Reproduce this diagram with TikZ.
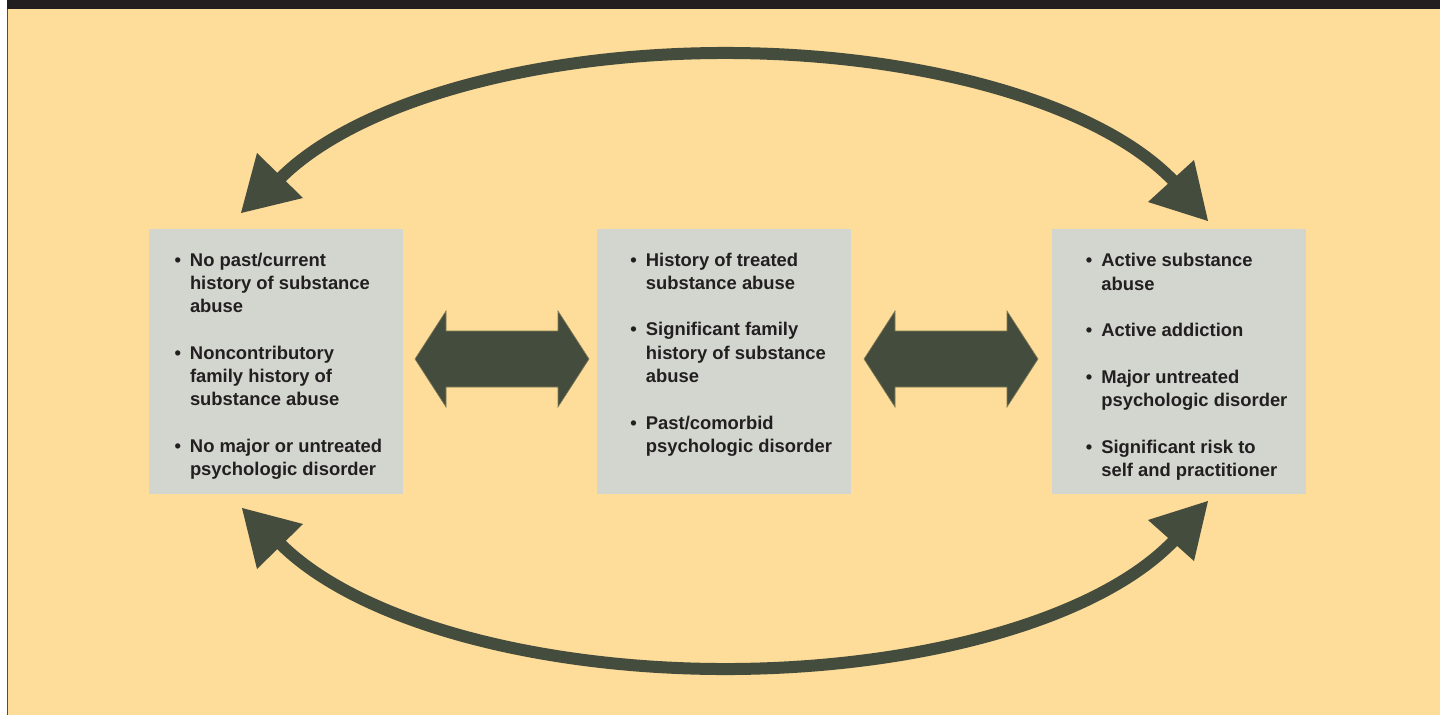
\documentclass[tikz,border=0pt]{standalone}
\usepackage{fontspec}
\setmainfont{Liberation Sans}
\usetikzlibrary{positioning}

\definecolor{bg}{HTML}{FEDC99}
\definecolor{boxgray}{HTML}{D2D6CF}
\definecolor{olive}{HTML}{444C3D}
\definecolor{oliveedge}{HTML}{807D58}
\definecolor{ink}{HTML}{231F20}
\definecolor{edgeline}{HTML}{4B4F3B}

\newcommand{\bul}{\makebox[15.5pt][l]{\textbullet}}
\newcommand{\ind}{\hspace*{15.5pt}}

\tikzset{
	stage/.style={fill=boxgray, minimum width=254pt, minimum height=265pt, inner sep=0pt},
	items/.style={anchor=north west, inner sep=0pt, align=left, text=ink,
		font=\fontsize{18.4}{23.3}\selectfont\bfseries},
	shaft/.style={draw=olive, line width=12pt},
	blockarrow/.style={fill=olive, draw=oliveedge, line width=0.6pt}
}

\begin{document}
\begin{tikzpicture}[x=1pt, y=-1pt]
		\useasboundingbox (0,0) rectangle (1440,715);
		% frame
		\fill[white] (0,0) rectangle (1440,715);
		\fill[bg] (8,9) rectangle (1440,715);
		\fill[ink] (7,0) rectangle (1440,9);
		\fill[edgeline] (7,9) rectangle (8,715);
		
		% the three stages
		\node[stage] (low) at (276,361.5) {};
		\node[stage, right=194pt of low] (mid) {};
		\node[stage, right=200pt of mid] (high) {};
		
		\node[items] (lowtext) at ([shift={(25.5,23.7)}]low.north west) {\bul No past/current\\ \ind history of substance\\ \ind abuse\\[23.3pt]
			\bul Noncontributory\\ \ind family history of\\ \ind substance abuse\\[23.3pt]
			\bul No major or untreated\\ \ind psychologic disorder};
		\node[items] (midtext) at ([shift={(33,23.7)}]mid.north west) {\bul History of treated\\ \ind substance abuse\\[23.3pt]
			\bul Significant family\\ \ind history of substance\\ \ind abuse\\[23.3pt]
			\bul Past/comorbid\\ \ind psychologic disorder};
		\node[items] (hightext) at ([shift={(34,24.5)}]high.north west) {\bul Active substance\\ \ind abuse\\[23.3pt]
			\bul Active addiction\\[23.3pt]
			\bul Major untreated\\ \ind psychologic disorder\\[23.3pt]
			\bul Significant risk to\\ \ind self and practitioner};
		
		% block arrows between the stages
		\coordinate (lowmid) at (502,359);
		\coordinate (midhigh) at (951,359);
		\foreach \c in {lowmid,midhigh}
			\draw[blockarrow] (\c) ++(-87,0) -- ++(31,-48) -- ++(0,20) -- ++(112,0) -- ++(0,-20) -- ++(31,48)
				-- ++(-31,48) -- ++(0,-20) -- ++(-112,0) -- ++(0,20) -- cycle;
		
		% curved arrows low <-> high
		\coordinate (topR) at (1177.4,185.2);
		\coordinate (botR) at (1177.4,536.8);
		\draw[shaft] (topR) arc[start angle=-21, end angle=-159, x radius=484, y radius=206];
		\draw[shaft] (botR) arc[start angle=21, end angle=159, x radius=484, y radius=206];
		\fill[olive] (241,213) coordinate(tipTL) -- (257,153) -- (303,198) -- cycle;
		\fill[olive] (1208,221) coordinate(tipTR) -- (1194,160) -- (1148,202) -- cycle;
		\fill[olive] (242,508) coordinate(tipBL) -- (303,524) -- (257,569) -- cycle;
		\fill[olive] (1208,501) coordinate(tipBR) -- (1148,520) -- (1194,561) -- cycle;
		
	\end{tikzpicture}
\end{document}
